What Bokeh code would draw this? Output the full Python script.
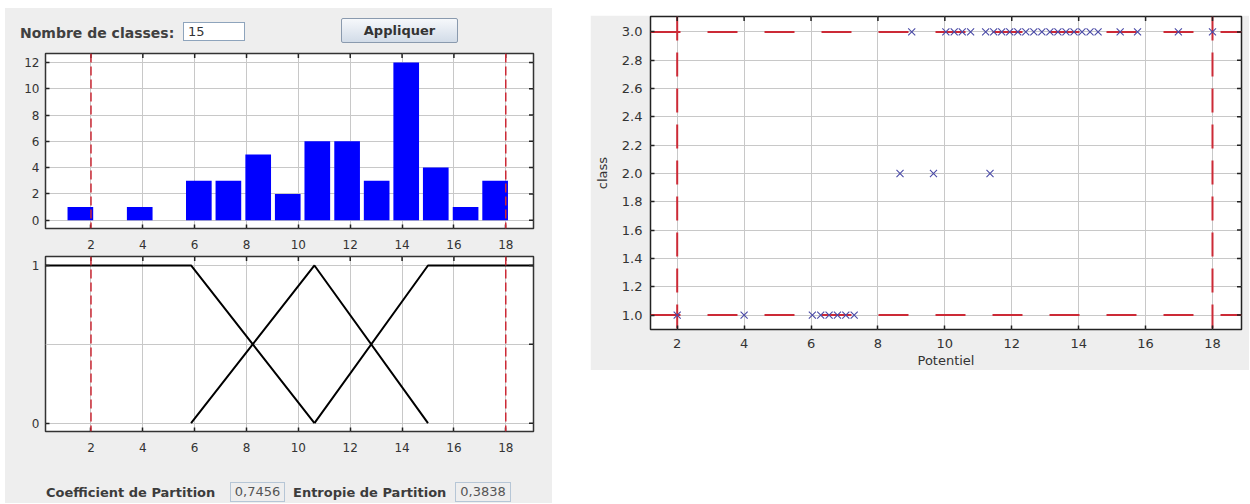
import math
from bokeh.plotting import figure
from bokeh.models import Range1d, FixedTicker, Span, Div, ColumnDataSource, PrintfTickFormatter
from bokeh.layouts import row, column
from bokeh.embed import file_html
from bokeh.resources import INLINE

# ---------------- data ----------------
n_classes = "15"
hist_centers = [1.59, 2.73, 3.88, 5.02, 6.16, 7.30, 8.45, 9.59, 10.73, 11.88, 13.02, 14.16, 15.30, 16.45, 17.59]
hist_counts = [1, 0, 1, 0, 3, 3, 5, 2, 6, 6, 3, 12, 4, 1, 3]
x_ticks = [2, 4, 6, 8, 10, 12, 14, 16, 18]
hist_y_ticks = [0, 2, 4, 6, 8, 10, 12]
bounds_x = [2, 18]

mf_low_x = [0.245, 5.86, 10.62]
mf_low_y = [1, 1, 0]
mf_mid_x = [5.86, 10.62, 15.0]
mf_mid_y = [0, 1, 0]
mf_high_x = [10.62, 15.0, 19.07]
mf_high_y = [0, 1, 1]
mf_y_ticks = [0, 1]
mf_grid_ticks = [0, 0.5, 1]

class1_x = [2.0, 4.0, 6.04, 6.29, 6.54, 6.79, 7.04, 7.29]
class2_x = [8.66, 9.66, 11.35]
class3_x = [9.01, 10.03, 10.28, 10.52, 10.77, 11.22, 11.46, 11.70, 11.94, 12.18, 12.42,
            12.66, 12.90, 13.14, 13.38, 13.62, 13.86, 14.10, 14.34, 14.58, 15.24, 15.76,
            16.98, 18.0]
class_values = [1, 2, 3]
class_y_ticks = [1.0, 1.2, 1.4, 1.6, 1.8, 2.0, 2.2, 2.4, 2.6, 2.8, 3.0]
bounds_class = [1, 3]

partition_coef = "0,7456"
partition_entropy = "0,3838"

# ---------------- styling helpers ----------------
PANEL = "#eeeeee"
GRID = "#c8c8c8"
RED = "#cc2a36"
FONT = "DejaVu Sans"
TICK = "#222222"


def style_axis(ax, standoff, size="12px"):
    ax.major_tick_in = 4
    ax.major_tick_out = 0
    ax.minor_tick_line_color = None
    ax.axis_line_color = None
    ax.major_tick_line_color = TICK
    ax.major_tick_line_width = 1.5
    ax.major_label_text_font = FONT
    ax.major_label_text_font_size = size
    ax.major_label_text_color = "#333333"
    ax.major_label_standoff = standoff


def mirror_ticks(p, xr, yr, xt, yt):
    # inward ticks on the top and right edges of the frame (half of each dash is clipped)
    p.scatter(x=xt, y=[yr.end] * len(xt), marker="dash", angle=math.pi / 2, size=9,
              line_color=TICK, line_width=1.5)
    p.scatter(x=[xr.end] * len(yt), y=yt, marker="dash", size=9,
              line_color=TICK, line_width=1.5)


def base_fig(w, h, xr, yr, bl, br, bt, bb):
    p = figure(width=w, height=h, x_range=xr, y_range=yr, output_backend="svg",
               toolbar_location=None, min_border_left=bl, min_border_right=br,
               min_border_top=bt, min_border_bottom=bb, border_fill_color=PANEL,
               background_fill_color="white", outline_line_color="#333333",
               outline_line_width=1.5)
    p.xgrid.grid_line_color = GRID
    p.ygrid.grid_line_color = GRID
    return p


# ---------------- histogram ----------------
xr_left = Range1d(0.245, 19.07)
yr_hist = Range1d(-0.63, 12.68)
p1 = base_fig(547, 205, xr_left, yr_hist, 40, 19, 5, 25)
p1.xaxis.ticker = FixedTicker(ticks=x_ticks)
p1.yaxis.ticker = FixedTicker(ticks=hist_y_ticks)
style_axis(p1.xaxis[0], 11)
style_axis(p1.yaxis[0], 6)
p1.vbar(x=hist_centers, top=hist_counts, bottom=0, width=0.99, fill_color="#0000ff",
        line_color=None)
mirror_ticks(p1, xr_left, yr_hist, x_ticks, hist_y_ticks)
for b in bounds_x:
    p1.add_layout(Span(location=b, dimension="height", line_color=RED, line_dash="9 4",
                       line_width=1.5))

# ---------------- membership functions ----------------
yr_mf = Range1d(-0.053, 1.057)
p2 = base_fig(547, 202, xr_left, yr_mf, 40, 19, 3, 24)
p2.xaxis.ticker = FixedTicker(ticks=x_ticks)
p2.yaxis.ticker = FixedTicker(ticks=mf_y_ticks)
p2.ygrid.ticker = FixedTicker(ticks=mf_grid_ticks)
style_axis(p2.xaxis[0], 11)
style_axis(p2.yaxis[0], 6)
for xs, ys in ((mf_low_x, mf_low_y), (mf_mid_x, mf_mid_y), (mf_high_x, mf_high_y)):
    p2.line(xs, ys, line_color="black", line_width=2)
mirror_ticks(p2, xr_left, yr_mf, x_ticks, mf_grid_ticks)
for b in bounds_x:
    p2.add_layout(Span(location=b, dimension="height", line_color=RED, line_dash="9 4",
                       line_width=1.5))

# ---------------- header / footer ----------------
header_html = f"""
<div style="position:relative;width:547px;height:40px;font-family:'DejaVu Sans',sans-serif;">
  <span style="position:absolute;left:15px;top:15px;font-size:14px;font-weight:bold;color:#404040;white-space:nowrap;">Nombre de classes:</span>
  <div style="position:absolute;left:178px;top:14px;width:62px;height:19px;box-sizing:border-box;background:#ffffff;border:1px solid #8ea4bc;font-size:13px;line-height:17px;padding-left:4px;color:#333;">{n_classes}</div>
  <div style="position:absolute;left:336px;top:10px;width:117px;height:25px;box-sizing:border-box;border:1px solid #8a9aae;border-radius:2px;background:linear-gradient(#f6f8fb,#d2dce8);font-size:13px;font-weight:bold;color:#333;text-align:center;line-height:23px;">Appliquer</div>
</div>
"""
header = Div(text=header_html, width=547, height=40, margin=0)

footer_html = f"""
<div style="position:relative;width:547px;height:48px;font-family:'DejaVu Sans',sans-serif;color:#3c3c3c;">
  <span style="position:absolute;left:41px;top:29px;font-size:13px;font-weight:bold;white-space:nowrap;">Coefficient de Partition</span>
  <div style="position:absolute;left:225px;top:27px;width:55px;height:20px;box-sizing:border-box;border:1px solid #b6c6d6;font-size:13px;line-height:18px;text-align:center;color:#555;">{partition_coef}</div>
  <span style="position:absolute;left:288px;top:29px;font-size:13px;font-weight:bold;white-space:nowrap;">Entropie de Partition</span>
  <div style="position:absolute;left:450px;top:27px;width:56px;height:20px;box-sizing:border-box;border:1px solid #b6c6d6;font-size:13px;line-height:18px;text-align:center;color:#555;">{partition_entropy}</div>
</div>
"""
footer = Div(text=footer_html, width=547, height=48, margin=0)

left = column(header, p1, p2, footer, width=547, height=495, spacing=0,
              styles={"background-color": PANEL})
left.margin = (8, 0, 0, 5)

# ---------------- scatter (class vs Potentiel) ----------------
xr_sc = Range1d(1.202, 18.867)
yr_sc = Range1d(0.898, 3.109)
p3 = base_fig(659, 355, xr_sc, yr_sc, 60, 8, 1, 37)
p3.margin = (15, 0, 0, 38)
p3.outline_line_color = "#222222"
p3.xaxis.ticker = FixedTicker(ticks=x_ticks)
p3.yaxis.ticker = FixedTicker(ticks=class_y_ticks)
p3.yaxis.formatter = PrintfTickFormatter(format="%.1f")
style_axis(p3.xaxis[0], 9, "13px")
style_axis(p3.yaxis[0], 8, "13px")
p3.xaxis.axis_label = "Potentiel"
p3.yaxis.axis_label = "class"
for ax in (p3.xaxis[0], p3.yaxis[0]):
    ax.axis_label_text_font = FONT
    ax.axis_label_text_font_style = "normal"
    ax.axis_label_text_font_size = "13px"
    ax.axis_label_text_color = "#333333"
p3.xaxis.axis_label_standoff = 2
p3.yaxis.axis_label_standoff = 9

for b in bounds_x:
    p3.add_layout(Span(location=b, dimension="height", line_color=RED, line_dash="24 12",
                       line_width=2, level="underlay"))
for b in bounds_class:
    p3.add_layout(Span(location=b, dimension="width", line_color=RED, line_dash="30 27",
                       line_width=2, level="underlay"))

xs_all = class1_x + class2_x + class3_x
ys_all = ([class_values[0]] * len(class1_x) + [class_values[1]] * len(class2_x)
          + [class_values[2]] * len(class3_x))
src = ColumnDataSource(dict(x=xs_all, y=ys_all))
p3.scatter("x", "y", source=src, marker="x", size=10, line_color="#4a4aa6", line_width=1.1)
mirror_ticks(p3, xr_sc, yr_sc, x_ticks, class_y_ticks)

layout = row(left, p3, spacing=0)

open("out.html", "w").write(file_html(layout, INLINE))
